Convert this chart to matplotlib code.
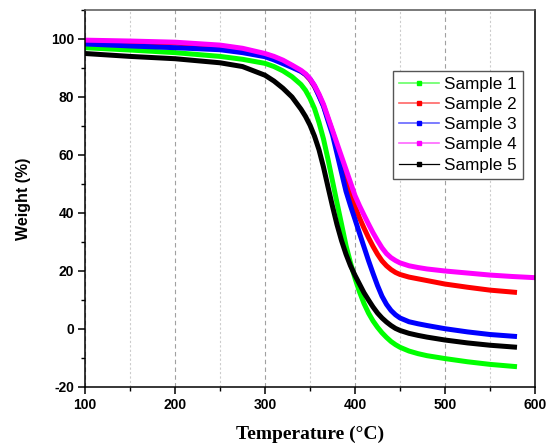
import matplotlib
matplotlib.use("Agg")
import matplotlib.pyplot as plt
from matplotlib.lines import Line2D
from matplotlib.ticker import MultipleLocator

# ---- data ----
temp_main = [100, 150, 200, 250, 275, 300, 310, 320, 330, 340,
             345, 350, 355, 360, 365, 370, 375, 380, 385, 390, 395, 400, 405,
             410, 415, 420, 425, 430, 435, 440, 445, 450,
             460, 470, 480, 500, 525, 550, 580]
temp_s4 = [100, 150, 200, 250, 275, 300, 310, 320, 330, 340,
           345, 350, 355, 360, 365, 370, 375, 380, 385, 390, 395, 400, 405,
           410, 415, 420, 425, 430, 435, 440, 445, 450,
           460, 470, 480, 500, 525, 550, 575, 600]

sample1 = [97.0, 96.2, 95.3, 94.0, 93.0, 91.6, 90.5, 89.0, 87.0, 84.3,
           82.3, 79.5, 76.0, 71.2, 65.5, 58.5, 51.0, 43.5, 36.2, 28.8, 22.8, 17.5, 12.8,
           8.8, 5.5, 2.8, 0.6, -1.3, -2.9, -4.3, -5.4, -6.3,
           -7.6, -8.5, -9.2, -10.2, -11.3, -12.2, -13.0]
sample2 = [99.2, 99.0, 98.6, 97.6, 96.5, 94.7, 93.7, 92.4, 90.7, 88.9,
           87.7, 86.0, 83.6, 80.6, 77.0, 72.5, 68.0, 63.2, 57.8, 52.0, 46.8, 42.3, 38.3,
           34.8, 31.5, 28.5, 25.8, 23.5, 21.8, 20.5, 19.5, 18.8,
           17.9, 17.3, 16.7, 15.5, 14.4, 13.4, 12.6]
sample3 = [98.3, 97.6, 97.0, 96.3, 95.3, 93.9, 92.8, 91.5, 90.2, 88.8,
           87.8, 86.2, 83.8, 80.3, 76.8, 71.8, 67.0, 60.5, 54.0, 47.5, 42.5, 37.8, 33.0,
           28.3, 23.6, 19.2, 15.0, 11.3, 8.5, 6.4, 4.9, 3.8,
           2.5, 1.8, 1.2, 0.1, -1.0, -1.9, -2.6]
sample4 = [99.6, 99.3, 98.9, 97.9, 96.8, 95.0, 94.0, 92.7, 91.0, 89.2,
           88.0, 86.3, 84.0, 81.0, 77.5, 73.0, 68.5, 64.0, 59.5, 55.0, 50.5, 46.0, 42.5,
           39.3, 36.2, 33.2, 30.5, 28.0, 26.0, 24.6, 23.6, 22.8,
           21.8, 21.2, 20.7, 20.0, 19.3, 18.6, 18.1, 17.7]
sample5 = [95.0, 94.0, 93.2, 91.8, 90.5, 87.5, 85.5, 83.0, 80.0, 75.8,
           73.3, 70.3, 66.5, 61.8, 55.8, 49.0, 42.3, 36.0, 30.5, 25.8, 21.8, 18.5, 15.5,
           12.5, 10.0, 7.6, 5.5, 3.8, 2.4, 1.2, 0.2, -0.5,
           -1.5, -2.2, -2.8, -3.8, -4.8, -5.6, -6.3]

labels = ["Sample 1", "Sample 2", "Sample 3", "Sample 4", "Sample 5"]
colors = ["#00ff00", "#ff0000", "#0000ff", "#ff00ff", "#000000"]
series = [(temp_main, sample1), (temp_main, sample2), (temp_main, sample3),
          (temp_s4, sample4), (temp_main, sample5)]

xticks = [100, 200, 300, 400, 500, 600]
yticks = [-20, 0, 20, 40, 60, 80, 100]

# ---- figure ----
fig = plt.figure(figsize=(5.46, 4.47), dpi=100)
ax = fig.add_axes([85/546, 60/447, 450/546, 377/447])

for (t, w), c in zip(series, colors):
    ax.plot(t, w, color=c, lw=3.6, solid_capstyle="butt", solid_joinstyle="round")

ax.set_xlim(100, 600)
ax.set_ylim(-20, 110)
ax.set_xticks(xticks)
ax.set_yticks(yticks)
ax.xaxis.set_minor_locator(MultipleLocator(50))
ax.yaxis.set_minor_locator(MultipleLocator(10))

ax.grid(True, which="major", axis="x", color="#a0a0a0", ls=(0, (4, 3)), lw=0.8)
ax.grid(True, which="minor", axis="x", color="#cccccc", ls=(0, (2, 2)), lw=0.8)
ax.set_axisbelow(True)

tick_font = dict(family=["Liberation Sans", "DejaVu Sans"], weight="bold", size=10)
ax.set_xticklabels([str(v) for v in xticks], **tick_font)
ax.set_yticklabels([str(v) for v in yticks], **tick_font)
ax.tick_params(which="major", direction="out", length=5, width=1.1, pad=3)
ax.tick_params(which="minor", direction="out", length=3, width=1.0)

for s in ax.spines.values():
    s.set_linewidth(1.1)
ax.spines["top"].set_color("#555555")

ax.set_xlabel("Temperature (°C)", family=["Liberation Serif", "DejaVu Serif"],
              weight="bold", size=14, labelpad=10)
ax.set_ylabel("Weight (%)", family=["Liberation Sans", "DejaVu Sans"],
              weight="bold", size=11.5, labelpad=14)

handles = []
for c, lab in zip(colors, labels):
    lc = c if c == "#000000" else matplotlib.colors.to_rgba(c, 0.6)
    lw = 0.9 if c == "#000000" else 1.2
    handles.append(Line2D([0], [0], color=lc, lw=lw, marker="s", markersize=3.5,
                          markerfacecolor=c, markeredgecolor=c, label=lab))
leg = ax.legend(handles=handles, loc="upper left", bbox_to_anchor=(0.684, 0.838),
                prop=dict(family=["Liberation Sans", "DejaVu Sans"], size=12.3),
                frameon=True, fancybox=False, edgecolor="#555555", framealpha=1,
                handlelength=2.35, handletextpad=0.3, labelspacing=0.3,
                borderpad=0.35, borderaxespad=0)
leg.get_frame().set_linewidth(1.0)

fig.savefig("out.png", dpi=100)
